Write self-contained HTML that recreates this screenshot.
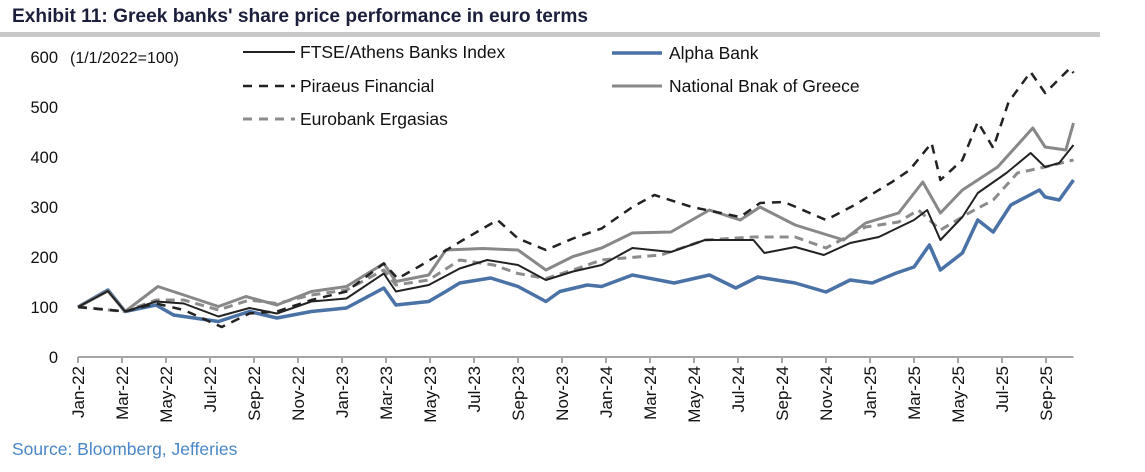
<!DOCTYPE html>
<html><head><meta charset="utf-8"><style>
body{margin:0;background:#fff;}
svg{display:block;font-family:"Liberation Sans",Arial,sans-serif;}
</style></head><body>
<svg id="chart" width="1145" height="472" viewBox="0 0 1145 472" xmlns="http://www.w3.org/2000/svg">
<text x="12" y="22" font-size="19" font-weight="bold" fill="#1b1f3b" textLength="576" lengthAdjust="spacingAndGlyphs">Exhibit 11: Greek banks' share price performance in euro terms</text>
<rect x="0" y="32" width="1100" height="5" fill="#c8c8c8"/>
<text x="70" y="63" font-size="16" fill="#111">(1/1/2022=100)</text>
<g id="legend" font-size="17.5" fill="#111">
<g><line x1="243" y1="52" x2="295" y2="52" stroke="#222" stroke-width="2"/><text x="300" y="58">FTSE/Athens Banks Index</text></g>
<g><line x1="243" y1="86" x2="295" y2="86" stroke="#222" stroke-width="2.5" stroke-dasharray="9,7"/><text x="300" y="92">Piraeus Financial</text></g>
<g><line x1="243" y1="119" x2="295" y2="119" stroke="#8c8c8c" stroke-width="3" stroke-dasharray="9,7"/><text x="300" y="125">Eurobank Ergasias</text></g>
<g><line x1="612" y1="53" x2="662" y2="53" stroke="#4a72a6" stroke-width="3.5"/><text x="669" y="59">Alpha Bank</text></g>
<g><line x1="612" y1="86" x2="662" y2="86" stroke="#888" stroke-width="3"/><text x="669" y="92">National Bnak of Greece</text></g>
</g>
<g id="yaxis"></g>
<g id="xaxis"></g>
<g id="series"></g>
<text x="12" y="455" font-size="17.5" fill="#4a86c8">Source: Bloomberg, Jefferies</text>
</svg>
<script>
const yTicks=[0,100,200,300,400,500,600];
const xTickLabels=["Jan-22","Mar-22","May-22","Jul-22","Sep-22","Nov-22","Jan-23","Mar-23","May-23","Jul-23","Sep-23","Nov-23","Jan-24","Mar-24","May-24","Jul-24","Sep-24","Nov-24","Jan-25","Mar-25","May-25","Jul-25","Sep-25"];
const xTickMonths=[0,2,4,6,8,10,12,14,16,18,20,22,24,26,28,30,32,34,36,38,40,42,44];
const xEndMonth=45.25;
// month index since Jan-22, values (1/1/2022=100)
const alphaM=[0,1.36,2.14,3.55,4.34,6.38,7.79,9.04,10.61,12.2,13.9,14.45,15.94,16.72,17.35,18.76,20,21.27,21.9,23.15,23.8,25.2,27.1,28.7,29.9,30.9,32.6,34.0,35.1,36.1,37.2,38.0,38.7,39.2,40.2,40.9,41.6,42.4,43.7,43.96,44.6,45.25];
const alphaV=[100,134,91,104,84,71,91,78,91,98,138,104,111,131,148,158,141,111,131,144,141,164,148,164,138,160,148,130,154,148,168,180,224,174,208,274,250,304,334,320,314,354];
const ftseM=[0,1.36,2.14,3.55,4.81,6.38,7.79,9.04,10.61,12.2,13.9,14.45,15.94,17.35,18.6,20,21.27,22.5,23.8,25.2,26.95,28.5,30.7,31.2,32.6,33.9,35.1,36.4,38.0,38.6,39.2,40.2,40.9,42.2,43.3,43.96,44.6,45.25];
const ftseV=[100,132,91,111,107,81,98,87,111,117,167,131,144,177,194,184,154,171,184,218,210,234,234,208,220,204,228,240,274,294,234,280,328,368,408,380,388,424];
const nationalM=[0,1.36,2.14,3.63,4.81,6.38,7.63,9.04,10.61,12.2,13.9,14.45,15.94,16.72,18.4,20,21.27,22.5,23.8,25.2,26.95,28.7,30.1,31.0,32.6,34.8,35.8,37.3,38.4,39.2,40.2,41.8,43.4,43.96,44.9,45.25];
const nationalV=[100,132,91,141,124,101,121,104,131,141,187,151,164,214,217,214,174,201,218,248,250,294,274,300,264,234,268,288,350,288,334,380,458,420,414,468];
const eurobankM=[0,2.14,3.55,4.81,6.38,7.79,9.04,10.61,12.2,13.9,14.45,15.94,17.35,18.9,20,21.27,22.5,23.8,26.5,28.5,30.7,32.6,34.0,35.8,37.3,38.2,39.2,40.5,41.6,42.7,43.96,45.25];
const eurobankV=[100,91,114,114,94,114,107,124,134,174,144,154,194,184,167,157,174,194,204,234,240,240,218,260,270,294,254,288,314,368,380,394];
const piraeusM=[0,2.14,3.55,4.81,6.53,7.79,9.04,10.61,12.2,13.9,14.53,15.5,17.5,19.07,20,21.27,22.5,23.8,25.2,26.2,27.9,30.1,31.0,32.1,34.0,35.3,36.4,37.0,37.8,38.8,39.2,40.2,40.9,41.6,42.3,43.3,43.96,45.1,45.25];
const piraeusV=[100,91,107,94,60,87,91,114,131,187,157,181,234,274,237,214,237,257,300,324,300,280,308,310,274,304,334,350,374,428,354,394,470,418,510,570,528,578,568];

const X0=78, PXM=22, Y0=357, PXV=0.5;
const xs=m=>X0+m*PXM;
const ys=v=>Y0-v*PXV;
const NS="http://www.w3.org/2000/svg";
function mk(tag,attrs,parent){const e=document.createElementNS(NS,tag);for(const k in attrs)e.setAttribute(k,attrs[k]);parent.appendChild(e);return e;}
const yg=document.getElementById('yaxis');
yTicks.forEach(v=>{
  const t=mk('text',{x:58,y:ys(v)+6,'text-anchor':'end','font-size':16.5,fill:'#111'},yg);
  
  
  t.textContent=v;
});
const xg=document.getElementById('xaxis');
const axl=mk('line',{x1:xs(0),y1:Y0,x2:xs(xEndMonth),y2:Y0,stroke:'#a6a6a6','stroke-width':2},xg);


xTickMonths.forEach((m,i)=>{
  const tk=mk('line',{x1:xs(m),y1:Y0,x2:xs(m),y2:Y0+6,stroke:'#a6a6a6','stroke-width':2},xg);
  
  
  const t=mk('text',{x:0,y:0,'text-anchor':'end','font-size':17,fill:'#111',transform:`translate(${xs(m)+6},${Y0+9}) rotate(-90)`},xg);
  
  
  t.textContent=xTickLabels[i];
});
const sg=document.getElementById('series');
function line(M,V,stroke,w,dash,name){
  const pts=M.map((m,i)=>xs(m).toFixed(1)+','+ys(V[i]).toFixed(1)).join(' ');
  const p=mk('polyline',{points:pts,fill:'none',stroke:stroke,'stroke-width':w,'stroke-linejoin':'round'},sg);
  if(dash)p.setAttribute('stroke-dasharray',dash);
  
  
}
line(alphaM,alphaV,'#4a72a6',3.5,null,'alpha-bank-line');
line(eurobankM,eurobankV,'#8c8c8c',3,'9,6','eurobank-line');
line(nationalM,nationalV,'#888',3,null,'national-bank-line');
line(ftseM,ftseV,'#222',2,null,'ftse-athens-banks-line');
line(piraeusM,piraeusV,'#222',2.5,'9,7','piraeus-line');
</script>
</body></html>
